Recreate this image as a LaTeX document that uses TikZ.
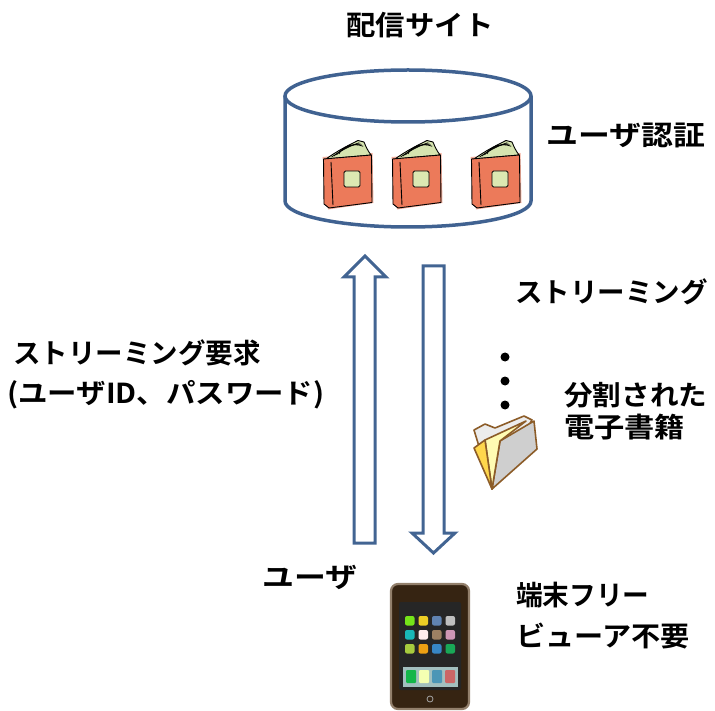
\documentclass[tikz,border=0pt]{standalone}
\usepackage{graphicx}
\usepackage{fontspec}
\setmainfont{Noto Sans CJK JP}[BoldFont={* Bold}]
\newcommand\hwide[2]{\scalebox{#1}[1]{#2}}
\begin{document}
\begin{tikzpicture}[x=1pt,y=-1pt,
  label/.style={font=\bfseries\fontsize{27.5}{31}\selectfont, inner sep=0pt, anchor=west},
  cyl/.style={draw=cylblue, line width=3.5pt},
  blockarrow/.style={draw=arrblue, line width=3pt, fill=white, line join=miter},
  bookline/.style={draw=black, line width=0.9pt, line join=round},
]
\definecolor{cylblue}{RGB}{64,98,145}
\definecolor{arrblue}{RGB}{66,100,146}
\definecolor{cover}{RGB}{236,122,90}
\definecolor{pages}{RGB}{214,228,176}
\definecolor{tag}{RGB}{220,232,178}
\definecolor{fbrown}{RGB}{140,92,40}

\useasboundingbox (0,0) rectangle (715,711);

% book clip-art, local frame 51 x 68
\tikzset{book/.pic={
  \fill[cover!60] (0.5,17) -- (50.5,13) -- (51.5,63) -- (6,69.5) -- cycle;
  \filldraw[bookline, fill=pages] (4,19) .. controls (15,11) and (27,5) .. (36,0.5)
     -- (42,2) .. controls (44,7) and (46,11) .. (49,15) -- cycle;
  \foreach \k in {1,2,3,4} {
    \draw[line width=0.7pt] (7+2.5*\k,18-\k) .. controls (20,11-\k) and (30,6-\k) .. (36+1.3*\k,1.5+1.2*\k);
  }
  \filldraw[bookline, fill=cover] (1.5,19) -- (49.5,15) -- (50,62.5) -- (7,68) -- (2,64) -- cycle;
  \draw[bookline] (9,22) -- (11,65);
  \filldraw[bookline, fill=tag, rounded corners=1.5pt] (22,31) rectangle (38,47);
}}

% distribution site: cylinder
\node[label, anchor=center] (site) at (420,25) {\hwide{1.07}{配信サイト}};
\draw[cyl] (285,96) -- (285,201) arc[start angle=180, end angle=0, x radius=123, y radius=26] -- (531,96);
\draw[cyl] (408,96) ellipse[x radius=123, y radius=26];

\pic at (322,140) {book};
\pic at (391,140) {book};
\pic at (470,140) {book};

\node[label] (auth) at (546,135) {\hwide{1.16}{ユーザ認証}};

% request arrow (up) and streaming arrow (down)
\draw[blockarrow] (354,543) -- (354,277) -- (344,277) -- (365,256) -- (386,277) -- (375,277) -- (375,543) -- cycle;
\draw[blockarrow] (423,266) -- (444,266) -- (444,533) -- (455,533) -- (433.5,553) -- (412,533) -- (423,533) -- cycle;

\node[label] (stream) at (515,292) {ストリーミング};
\node[label] (req1) at (13,353) {ストリーミング要求};
\node[label] (req2) at (7,395) {\hwide{1.07}{(ユーザID、パスワード)}};

% continuation dots
\foreach \yy in {357,381,405} \fill (505,\yy) circle (4.5);

% split e-book: folder
\begin{scope}[line width=1.6pt, draw=fbrown, line join=round]
  \filldraw[fill=gray!15] (474,430) -- (485,424) -- (495,428) -- (524,416) -- (532,420) -- (492,489) -- cycle;
  \filldraw[fill=gray!38] (500,441) -- (534,421) -- (537,449) -- (492,489) -- cycle;
  \filldraw[fill=yellow!30] (485,440) -- (526,421) -- (500,441) -- (492,489) -- cycle;
  \filldraw[fill=orange!45!yellow!70] (474,448) -- (485,440) -- (492,489) -- cycle;
\end{scope}
\node[label] (split1) at (564,395) {\hwide{1.04}{分割された}};
\node[label] (split2) at (564,427) {\hwide{1.1}{電子書籍}};

% user terminal
\node[label] (user) at (262,577) {\hwide{1.16}{ユーザ}};
\filldraw[draw=gray!70!brown, line width=2.2pt, fill=black!72!brown, rounded corners=7pt] (391,584) rectangle (469,709);
\fill[black!85, rounded corners=2pt] (399,602) rectangle (461,690);
\foreach \c [count=\i from 0] in {{green!55!yellow!80!gray},{yellow!75!orange!85!gray},{cyan!55!blue!55!gray},{gray!50},
                                 {teal!45!cyan!80!gray},{pink!30},{brown!45!gray},{magenta!40!gray!70},
                                 {yellow!65!green!80!gray},{orange!70!yellow!85!gray},{cyan!65!blue!80!gray},{teal!60!green!80!gray}} {
  \pgfmathtruncatemacro\col{mod(\i,4)}
  \pgfmathtruncatemacro\row{div(\i,4)}
  \fill[\c, rounded corners=2pt] (405+13.5*\col,616+14*\row) rectangle ++(9.5,9.5);
}
\fill[gray!55!teal!50] (403,667) rectangle (458,687);
\foreach \c [count=\i from 0] in {{green!50!teal!85!gray},{green!15!yellow!30},{cyan!50!teal!80!gray},{red!50!gray!80}} {
  \fill[\c, rounded corners=1pt] (406+13*\i,670) rectangle ++(10,13);
}
\draw[gray!70, line width=0.8pt] (430,699) circle (3);

\node[label] (free1) at (516,595) {\hwide{0.97}{端末フリー}};
\node[label] (free2) at (516,636) {\hwide{1.06}{ビューア不要}};
\end{tikzpicture}
\end{document}
